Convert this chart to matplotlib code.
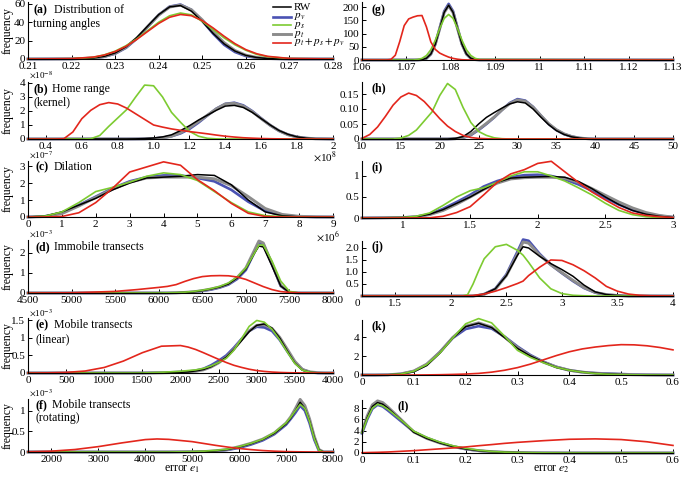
import matplotlib
matplotlib.use('Agg')
import matplotlib.pyplot as plt
from matplotlib.lines import Line2D

plt.rcParams['font.family'] = ['Liberation Serif', 'DejaVu Serif']
plt.rcParams['mathtext.fontset'] = 'stix'

W, H = 685, 482

# (a) turning angles
a_x = [0.21, 0.22, 0.225, 0.2275, 0.23, 0.2325, 0.235, 0.2375, 0.24, 0.2425, 0.245,
       0.2475, 0.25, 0.2525, 0.255, 0.2575, 0.26, 0.2625, 0.265, 0.27, 0.28]
a_rw = [0, 0.1, 1.1, 2.9, 6.6, 13.3, 23.5, 36, 48.3, 56.7, 58.1, 52, 40.7, 27.8, 16.5, 8.6, 3.9, 1.6, 0.5, 0, 0]
a_pv = [0, 0.1, 0.9, 2.5, 5.8, 12.2, 22.3, 35.2, 48.0, 57.0, 59.2, 53.5, 41.5, 27.5, 15.5, 7.6, 3.2, 1.2, 0.4, 0, 0]
a_ps = [0, 0.3, 1.8, 4.5, 8.5, 14.5, 22, 31, 40, 47, 50, 48, 41, 32, 23, 15.5, 9.5, 5, 2.5, 0.4, 0]
a_pt = [0, 0.1, 1.0, 2.7, 6.2, 12.8, 22.8, 35.5, 47.8, 56.5, 58.6, 53.5, 42.5, 29.5, 17.8, 9.2, 4.2, 1.7, 0.6, 0, 0]
a_all = [0, 0.4, 2.1, 4.3, 8.1, 13.8, 21.4, 30.1, 38.7, 45.4, 48.4, 47.1, 41.7, 33.7, 24.8, 16.7, 10.2, 5.7, 2.9, 0.6, 0]

# (g)
g_x = [1.06, 1.0645, 1.0655, 1.0665, 1.0675, 1.0685, 1.0695, 1.0705, 1.0715, 1.0725, 1.0735,
       1.0745, 1.0755, 1.0765, 1.0775, 1.0785, 1.0795, 1.0805, 1.0815, 1.0825, 1.0835,
       1.0845, 1.0855, 1.0865, 1.13]
g_rw = [0, 0, 0, 0, 0, 0, 0, 0, 0, 0.2, 1.4, 6.5, 22.6, 59.6, 119, 180, 207, 180, 119, 59.6, 22.6, 6.5, 1.4, 0.2, 0]
g_pv = [0, 0, 0, 0, 0, 0, 0, 0, 0, 0.2, 1.3, 6, 22, 60, 121, 184, 212, 184, 121, 60, 22, 6, 1.3, 0.2, 0]
g_ps = [0, 0, 0, 0, 0, 0, 0, 0, 0, 1.8, 6.1, 16.9, 38.9, 74.5, 119, 157, 172, 157, 119, 74.5, 38.9, 16.9, 6.1, 1.8, 0]
g_pt = [0, 0, 0, 0, 0, 0, 0, 0, 0, 0.3, 1.5, 7, 23, 60, 119, 179, 205, 179, 119, 60, 23, 7, 1.5, 0.3, 0]
g_all = [0, 0, 0, 2, 18, 70, 130, 155, 162, 167, 168, 125, 68, 40, 26, 18, 11, 6, 3, 1, 0.3, 0, 0, 0, 0]

# (b) home range, x in 1e8
b_x = [0.3, 0.45, 0.5, 0.55, 0.6, 0.65, 0.7, 0.75, 0.8, 0.85, 0.9, 0.95, 1.0, 1.05, 1.1, 1.15, 1.2,
       1.25, 1.3, 1.35, 1.4, 1.45, 1.5, 1.55, 1.6, 1.65, 1.7, 1.75, 1.8, 1.85, 1.9, 1.95, 2.0]
b_rw = [0, 0, 0, 0, 0, 0, 0, 0, 0, 0, 0.01, 0.03, 0.07, 0.15, 0.3, 0.6, 0.95, 1.35, 1.7, 2.05, 2.35,
        2.4, 2.25, 1.9, 1.45, 1.0, 0.6, 0.33, 0.15, 0.06, 0.02, 0, 0]
b_pv = [0, 0, 0, 0, 0, 0, 0, 0, 0, 0, 0.003, 0.01, 0.035, 0.09, 0.2, 0.4, 0.72, 1.17, 1.68, 2.17, 2.51,
        2.59, 2.4, 1.99, 1.47, 0.98, 0.58, 0.31, 0.15, 0.06, 0.02, 0.01, 0]
b_ps = [0, 0, 0, 0, 0, 0.02, 0.25, 0.9, 1.5, 2.1, 3.0, 3.85, 3.8, 3.0, 1.9, 1.2, 0.55, 0.2, 0.05, 0.01,
        0, 0, 0, 0, 0, 0, 0, 0, 0, 0, 0, 0, 0]
b_pt = [0, 0, 0, 0, 0, 0, 0, 0, 0, 0, 0.005, 0.01, 0.03, 0.08, 0.2, 0.45, 0.8, 1.25, 1.7, 2.15, 2.5,
        2.55, 2.35, 1.95, 1.45, 0.98, 0.58, 0.3, 0.14, 0.06, 0.02, 0.01, 0]
b_all = [0, 0, 0.02, 0.5, 1.45, 2.05, 2.45, 2.6, 2.5, 2.2, 1.8, 1.4, 1.0, 0.85, 0.72, 0.62, 0.53, 0.45,
         0.37, 0.28, 0.2, 0.14, 0.09, 0.06, 0.035, 0.02, 0.01, 0, 0, 0, 0, 0, 0]

# (h)
h_x = [10, 11, 12, 13, 14, 15, 16, 17, 18, 19, 20, 21, 22, 23, 24, 25, 26, 27, 28, 29, 30,
       31, 32, 33, 34, 35, 36, 37, 38, 39, 40, 45, 50]
h_rw = [0, 0, 0, 0, 0, 0, 0, 0, 0, 0, 0, 0, 0.002, 0.008, 0.025, 0.05, 0.072, 0.088, 0.103, 0.117,
        0.124, 0.12, 0.1, 0.073, 0.048, 0.028, 0.015, 0.007, 0.003, 0.001, 0, 0, 0]
h_pv = [0, 0, 0, 0, 0, 0, 0, 0, 0, 0, 0, 0, 0.001, 0.004, 0.013, 0.03, 0.05, 0.072, 0.097, 0.12,
        0.133, 0.128, 0.107, 0.078, 0.05, 0.03, 0.016, 0.008, 0.003, 0.001, 0, 0, 0]
h_ps = [0, 0, 0, 0, 0, 0.003, 0.012, 0.03, 0.06, 0.09, 0.145, 0.185, 0.165, 0.105, 0.055, 0.025,
        0.012, 0.004, 0.001, 0, 0, 0, 0, 0, 0, 0, 0, 0, 0, 0, 0, 0, 0]
h_pt = [0, 0, 0, 0, 0, 0, 0, 0, 0, 0, 0, 0, 0.001, 0.005, 0.015, 0.032, 0.052, 0.073, 0.097, 0.118,
        0.13, 0.126, 0.106, 0.078, 0.051, 0.031, 0.017, 0.008, 0.003, 0.001, 0, 0, 0]
h_all = [0.002, 0.015, 0.04, 0.075, 0.113, 0.14, 0.153, 0.145, 0.125, 0.097, 0.068, 0.043, 0.025,
         0.012, 0.005, 0.002, 0.001, 0, 0, 0, 0, 0, 0, 0, 0, 0, 0, 0, 0, 0, 0, 0, 0]

# (c) dilation, x in 1e6
c_x = [0, 0.5, 1, 1.5, 2, 2.5, 3, 3.5, 4, 4.5, 5, 5.5, 6, 6.5, 7, 7.5, 8, 8.5, 9]
c_rw = [0, 0.05, 0.3, 0.7, 1.1, 1.6, 2.0, 2.3, 2.35, 2.4, 2.5, 2.45, 1.9, 1.0, 0.3, 0.07, 0.01, 0, 0]
c_pv = [0, 0.04, 0.25, 0.7, 1.2, 1.7, 2.1, 2.35, 2.45, 2.45, 2.3, 2.1, 1.6, 0.9, 0.35, 0.1, 0.02, 0, 0]
c_ps = [0, 0.05, 0.3, 0.85, 1.5, 1.75, 2.05, 2.4, 2.6, 2.5, 2.15, 1.5, 0.85, 0.3, 0.08, 0.02, 0, 0, 0]
c_pt = [0, 0.03, 0.2, 0.65, 1.15, 1.65, 2.05, 2.3, 2.35, 2.35, 2.35, 2.25, 1.85, 1.2, 0.5, 0.15, 0.04, 0.01, 0]
c_all = [0, 0, 0.03, 0.25, 0.85, 1.7, 2.65, 2.95, 3.25, 3.05, 2.2, 1.55, 0.8, 0.22, 0.03, 0, 0, 0, 0]

# (i)
i_x = [0.7, 1.0, 1.1, 1.2, 1.3, 1.4, 1.5, 1.6, 1.7, 1.8, 1.9, 2.0, 2.1, 2.2, 2.3, 2.4, 2.5,
       2.6, 2.7, 2.8, 2.9, 3.0]
i_rw = [0, 0.01, 0.03, 0.09, 0.2, 0.35, 0.5, 0.68, 0.85, 0.95, 0.97, 0.98, 0.99, 0.97, 0.87, 0.7,
        0.5, 0.32, 0.18, 0.09, 0.04, 0.01]
i_pv = [0, 0.01, 0.03, 0.09, 0.22, 0.38, 0.55, 0.75, 0.88, 0.97, 1.02, 1.03, 1.0, 0.92, 0.8, 0.65,
        0.48, 0.32, 0.19, 0.1, 0.05, 0.02]
i_ps = [0, 0.01, 0.04, 0.12, 0.3, 0.5, 0.65, 0.72, 0.85, 1.0, 1.1, 1.1, 1.0, 0.88, 0.72, 0.55,
        0.35, 0.18, 0.08, 0.03, 0.01, 0]
i_pt = [0, 0.01, 0.03, 0.08, 0.18, 0.33, 0.5, 0.68, 0.83, 0.93, 0.96, 0.97, 0.97, 0.95, 0.85, 0.7,
        0.54, 0.38, 0.24, 0.13, 0.06, 0.02]
i_all = [0, 0, 0, 0.005, 0.04, 0.13, 0.27, 0.55, 0.85, 1.05, 1.15, 1.3, 1.35, 1.1, 0.85, 0.62,
         0.43, 0.25, 0.12, 0.06, 0.03, 0.01]

# (d) immobile transects
d_x = [4500, 5000, 5500, 5750, 6000, 6100, 6200, 6300, 6400, 6500, 6600, 6700, 6800, 6900,
       7000, 7100, 7150, 7200, 7300, 7400, 7500, 7600, 7800, 8000]
d_rw = [0, 0, 0, 0, 0, 0, 0.01, 0.03, 0.06, 0.12, 0.2, 0.3, 0.45, 0.75, 1.2, 2.0, 2.35, 2.3, 1.35,
        0.35, 0.03, 0, 0, 0]
d_pv = [0, 0, 0, 0, 0, 0, 0.01, 0.02, 0.05, 0.1, 0.17, 0.27, 0.42, 0.7, 1.15, 2.05, 2.5, 2.45,
        1.45, 0.35, 0.03, 0, 0, 0]
d_ps = [0, 0, 0, 0, 0, 0.01, 0.02, 0.04, 0.08, 0.14, 0.22, 0.33, 0.5, 0.8, 1.25, 2.0, 2.4, 2.4,
        1.6, 0.6, 0.08, 0.01, 0, 0]
d_pt = [0, 0, 0, 0, 0, 0, 0.01, 0.03, 0.06, 0.12, 0.2, 0.3, 0.46, 0.77, 1.25, 2.15, 2.6, 2.5,
        1.45, 0.38, 0.03, 0, 0, 0]
d_all = [0, 0.01, 0.08, 0.17, 0.28, 0.33, 0.42, 0.58, 0.72, 0.82, 0.86, 0.87, 0.86, 0.8, 0.68,
         0.5, 0.41, 0.32, 0.17, 0.07, 0.03, 0.01, 0, 0]

# (j)
j_x = [1.2, 2.0, 2.1, 2.15, 2.2, 2.25, 2.3, 2.4, 2.5, 2.6, 2.65, 2.7, 2.8, 2.9, 3.0, 3.1, 3.2,
       3.3, 3.4, 3.5, 3.6, 3.7, 3.8, 4.0]
j_rw = [0, 0, 0, 0, 0, 0.03, 0.08, 0.3, 0.85, 1.7, 2.05, 2.0, 1.65, 1.35, 1.1, 0.82, 0.45, 0.17,
        0.06, 0.02, 0, 0, 0, 0]
j_pv = [0, 0, 0, 0, 0, 0.03, 0.08, 0.3, 0.9, 1.85, 2.35, 2.3, 1.75, 1.3, 0.95, 0.62, 0.33, 0.14,
        0.05, 0.02, 0, 0, 0, 0]
j_ps = [0, 0, 0, 0.05, 0.5, 1.05, 1.55, 2.05, 2.15, 1.9, 1.7, 1.4, 0.75, 0.3, 0.1, 0.03, 0.01, 0,
        0, 0, 0, 0, 0, 0]
j_pt = [0, 0, 0, 0, 0, 0.03, 0.07, 0.28, 0.85, 1.75, 2.25, 2.2, 1.7, 1.3, 0.97, 0.65, 0.35, 0.15,
        0.06, 0.02, 0, 0, 0, 0]
j_all = [0, 0, 0, 0.01, 0.02, 0.05, 0.08, 0.2, 0.35, 0.52, 0.62, 0.85, 1.2, 1.5, 1.48, 1.3, 1.05,
         0.75, 0.4, 0.2, 0.08, 0.03, 0.01, 0]

# (e) mobile transects (linear)
e_x = [0, 250, 500, 750, 1000, 1250, 1500, 1750, 2000, 2100, 2200, 2300, 2400, 2500, 2600, 2700,
       2800, 2900, 3000, 3100, 3200, 3300, 3400, 3500, 3600, 3700, 3800, 3900, 4000]
e_rw = [0, 0, 0, 0, 0, 0, 0, 0.005, 0.02, 0.03, 0.06, 0.1, 0.18, 0.3, 0.45, 0.67, 0.92, 1.18, 1.36,
        1.4, 1.28, 1.0, 0.63, 0.28, 0.08, 0.02, 0.005, 0, 0]
e_pv = [0, 0, 0, 0, 0, 0, 0, 0.01, 0.03, 0.04, 0.07, 0.12, 0.22, 0.35, 0.5, 0.72, 0.97, 1.2, 1.32,
        1.3, 1.2, 0.95, 0.62, 0.3, 0.1, 0.02, 0, 0, 0]
e_ps = [0, 0, 0, 0, 0, 0, 0, 0.02, 0.05, 0.07, 0.09, 0.13, 0.2, 0.3, 0.42, 0.65, 0.98, 1.33, 1.5,
        1.45, 1.25, 0.95, 0.6, 0.27, 0.08, 0.02, 0, 0, 0]
e_pt = [0, 0, 0, 0, 0, 0, 0, 0.005, 0.02, 0.03, 0.05, 0.09, 0.17, 0.29, 0.45, 0.68, 0.95, 1.2, 1.36,
        1.38, 1.27, 1.02, 0.68, 0.33, 0.1, 0.03, 0.01, 0, 0]
e_all = [0, 0.004, 0.016, 0.057, 0.158, 0.34, 0.58, 0.765, 0.784, 0.74, 0.67, 0.58, 0.485, 0.39,
         0.3, 0.22, 0.16, 0.108, 0.07, 0.045, 0.027, 0.016, 0.009, 0.005, 0.002, 0, 0, 0, 0]

# (k)
k_x = [0, 0.025, 0.05, 0.075, 0.1, 0.125, 0.15, 0.175, 0.2, 0.225, 0.25, 0.275, 0.3, 0.325, 0.35,
       0.375, 0.4, 0.425, 0.45, 0.475, 0.5, 0.525, 0.55, 0.575, 0.6]
k_rw = [0, 0, 0.02, 0.1, 0.35, 1.0, 2.3, 3.9, 5.1, 5.45, 5.0, 3.95, 2.8, 2.0, 1.35, 0.8, 0.5, 0.3,
        0.17, 0.1, 0.05, 0.02, 0.01, 0, 0]
k_pv = [0, 0, 0.02, 0.1, 0.4, 1.1, 2.4, 3.9, 4.85, 5.15, 4.9, 4.05, 3.0, 2.1, 1.4, 0.85, 0.5, 0.3,
        0.2, 0.15, 0.1, 0.05, 0.02, 0.01, 0]
k_ps = [0, 0, 0.02, 0.1, 0.4, 1.1, 2.3, 3.9, 5.4, 5.95, 5.5, 4.1, 2.6, 1.85, 1.3, 0.8, 0.5, 0.3,
        0.15, 0.08, 0.04, 0.02, 0.01, 0, 0]
k_pt = [0, 0, 0.02, 0.12, 0.42, 1.15, 2.4, 3.95, 5.15, 5.5, 5.05, 4.0, 2.9, 2.0, 1.35, 0.85, 0.5,
        0.3, 0.18, 0.1, 0.06, 0.03, 0.01, 0, 0]
k_all = [0, 0, 0, 0, 0, 0.01, 0.03, 0.06, 0.1, 0.17, 0.3, 0.5, 0.78, 1.15, 1.6, 2.05, 2.45, 2.75,
         2.95, 3.1, 3.2, 3.18, 3.08, 2.9, 2.65]

# (f) mobile transects (rotating)
f_x = [1500, 2000, 2500, 3000, 3500, 4000, 4250, 4500, 5000, 5250, 5500, 5750, 6000, 6250, 6500,
       6750, 7000, 7100, 7200, 7300, 7400, 7500, 7600, 7700, 7800, 8000]
f_rw = [0, 0, 0, 0, 0, 0, 0, 0, 0.005, 0.01, 0.03, 0.06, 0.12, 0.2, 0.3, 0.45, 0.68, 0.82, 1.0, 1.2,
        1.05, 0.75, 0.35, 0.05, 0, 0]
f_pv = [0, 0, 0, 0, 0, 0, 0, 0, 0.005, 0.01, 0.02, 0.05, 0.1, 0.18, 0.28, 0.43, 0.66, 0.8, 0.95,
        1.12, 1.0, 0.7, 0.3, 0.03, 0, 0]
f_ps = [0, 0, 0, 0, 0, 0, 0, 0, 0.01, 0.02, 0.04, 0.07, 0.13, 0.21, 0.31, 0.47, 0.7, 0.84, 1.0,
        1.15, 1.05, 0.74, 0.33, 0.04, 0, 0]
f_pt = [0, 0, 0, 0, 0, 0, 0, 0, 0.005, 0.01, 0.03, 0.06, 0.13, 0.21, 0.31, 0.46, 0.7, 0.85, 1.05,
        1.27, 1.12, 0.8, 0.38, 0.06, 0, 0]
f_all = [0.005, 0.02, 0.06, 0.13, 0.22, 0.3, 0.315, 0.305, 0.25, 0.205, 0.16, 0.12, 0.085, 0.058,
         0.035, 0.02, 0.01, 0.008, 0.006, 0.004, 0.003, 0.002, 0.001, 0, 0, 0]

# (l)
l_x = [0, 0.01, 0.02, 0.03, 0.04, 0.05, 0.075, 0.1, 0.125, 0.15, 0.175, 0.2, 0.225, 0.25, 0.275,
       0.3, 0.35, 0.4, 0.45, 0.5, 0.55, 0.6]
l_rw = [3.6, 6.3, 8.3, 9.0, 8.7, 8.0, 5.9, 3.7, 2.6, 1.8, 1.15, 0.72, 0.42, 0.24, 0.13, 0.07, 0.02,
        0.01, 0, 0, 0, 0]
l_pv = [3.5, 6.0, 7.9, 8.6, 8.3, 7.6, 5.7, 3.8, 2.7, 1.85, 1.2, 0.7, 0.4, 0.22, 0.12, 0.06, 0.02,
        0, 0, 0, 0, 0]
l_ps = [3.6, 6.1, 8.0, 8.7, 8.4, 7.8, 5.9, 3.9, 2.8, 1.95, 1.3, 0.85, 0.5, 0.28, 0.15, 0.08, 0.03,
        0.01, 0, 0, 0, 0]
l_pt = [3.7, 6.6, 8.6, 9.3, 9.0, 8.2, 6.0, 3.75, 2.6, 1.8, 1.15, 0.72, 0.43, 0.24, 0.13, 0.07, 0.02,
        0.01, 0, 0, 0, 0]
l_all = [0.05, 0.08, 0.1, 0.12, 0.15, 0.18, 0.3, 0.42, 0.58, 0.74, 0.9, 1.08, 1.3, 1.5, 1.72, 1.9,
         2.2, 2.45, 2.52, 2.4, 2.0, 1.35]

legend_labels = ['RW', '$p_v$', '$p_s$', '$p_t$', '$p_t + p_s + p_v$']

COLORS = {'rw': '#000000', 'pv': '#4a52b3', 'ps': '#7dcb31', 'pt': '#8c8c8c', 'all': '#e3261c'}
WIDTHS = {'rw': 1.1, 'pv': 1.9, 'ps': 1.2, 'pt': 2.1, 'all': 1.2}
DRAW_ORDER = ['pv', 'pt', 'rw', 'ps', 'all']
TXT = 8.5

fig = plt.figure(figsize=(W / 100, H / 100), dpi=100)


def ftext(px, py, s, **kw):
    kw.setdefault('fontsize', TXT)
    kw.setdefault('va', 'center')
    fig.text(px / W, 1 - py / H, s, **kw)


def panel(x0, x1, top, zero, x, curves, xlim, ymax, xticks, xlabels, yticks, ylabels):
    ax = fig.add_axes([x0 / W, 1 - zero / H, (x1 - x0) / W, (zero - top) / H])
    ax.patch.set_alpha(0)
    for key in DRAW_ORDER:
        ax.plot(x, curves[key], color=COLORS[key], lw=WIDTHS[key], clip_on=False,
                solid_joinstyle='round')
    ax.set_xlim(*xlim)
    ax.set_ylim(0, ymax)
    ax.set_xticks(xticks)
    ax.set_xticklabels(xlabels)
    ax.set_yticks(yticks)
    ax.set_yticklabels(ylabels)
    ax.spines['top'].set_visible(False)
    ax.spines['right'].set_visible(False)
    ax.spines['left'].set_linewidth(0.8)
    ax.spines['bottom'].set_linewidth(0.8)
    ax.tick_params(direction='in', length=3, width=0.7, labelsize=8, pad=2)
    return ax


def series(rw, pv, ps, pt, al):
    return {'rw': rw, 'pv': pv, 'ps': ps, 'pt': pt, 'all': al}


LX0, LX1 = 28, 333
RX0, RX1 = 362, 673

# left column
panel(LX0, LX1, 2, 59, a_x, series(a_rw, a_pv, a_ps, a_pt, a_all), (0.21, 0.28), 62,
      [0.21, 0.22, 0.23, 0.24, 0.25, 0.26, 0.27, 0.28],
      ['0.21', '0.22', '0.23', '0.24', '0.25', '0.26', '0.27', '0.28'],
      [0, 20, 40, 60], ['0', '20', '40', '60'])
panel(LX0, LX1, 82, 139, b_x, series(b_rw, b_pv, b_ps, b_pt, b_all), (0.3, 2.0), 4.07,
      [0.4, 0.6, 0.8, 1.0, 1.2, 1.4, 1.6, 1.8, 2.0],
      ['0.4', '0.6', '0.8', '1.0', '1.2', '1.4', '1.6', '1.8', '2'],
      [0, 1, 2, 3, 4], ['0', '1', '2', '3', '4'])
panel(LX0, LX1, 161, 217, c_x, series(c_rw, c_pv, c_ps, c_pt, c_all), (0, 9), 3.3,
      list(range(10)), [str(v) for v in range(10)],
      [0, 1, 2, 3], ['0', '1', '2', '3'])
panel(LX0, LX1, 240, 293, d_x, series(d_rw, d_pv, d_ps, d_pt, d_all), (4500, 8000), 2.65,
      list(range(4500, 8001, 500)), [str(v) for v in range(4500, 8001, 500)],
      [0, 1, 2], ['0', '1', '2'])
panel(LX0, LX1, 318, 373, e_x, series(e_rw, e_pv, e_ps, e_pt, e_all), (0, 4000), 1.57,
      list(range(0, 4001, 500)), [str(v) for v in range(0, 4001, 500)],
      [0, 0.5, 1, 1.5], ['0', '0.5', '1', '1.5'])
panel(LX0, LX1, 399, 452, f_x, series(f_rw, f_pv, f_ps, f_pt, f_all), (1500, 8000), 1.28,
      list(range(2000, 8001, 1000)), [str(v) for v in range(2000, 8001, 1000)],
      [0, 0.5, 1], ['0', '0.5', '1'])

# right column
panel(RX0, RX1, 2, 60, g_x, series(g_rw, g_pv, g_ps, g_pt, g_all), (1.06, 1.13), 219,
      [1.06, 1.07, 1.08, 1.09, 1.10, 1.11, 1.12, 1.13],
      ['1.06', '1.07', '1.08', '1.09', '11', '1.11', '1.12', '1.13'],
      [0, 50, 100, 150, 200], ['0', '50', '100', '150', '200'])
panel(RX0, RX1, 82, 139, h_x, series(h_rw, h_pv, h_ps, h_pt, h_all), (10, 50), 0.19,
      list(range(10, 51, 5)), [str(v) for v in range(10, 51, 5)],
      [0, 0.05, 0.10, 0.15], ['0', '0.05', '0.10', '0.15'])
panel(RX0, RX1, 161, 218, i_x, series(i_rw, i_pv, i_ps, i_pt, i_all), (0.7, 3.0), 1.357,
      [1, 1.5, 2, 2.5, 3], ['1', '1.5', '2', '2.5', '3'],
      [0, 0.5, 1], ['0', '0.5', '1'])
panel(RX0, RX1, 241, 296, j_x, series(j_rw, j_pv, j_ps, j_pt, j_all), (1.2, 4.0), 2.29,
      [1.5, 2, 2.5, 3, 3.5, 4], ['1.5', '2', '2.5', '3', '3.5', '4'],
      [0.5, 1.0, 1.5, 2.0], ['0.5', '1.0', '1.5', '2.0'])
panel(RX0, RX1, 320, 375, k_x, series(k_rw, k_pv, k_ps, k_pt, k_all), (0, 0.6), 5.8,
      [0, 0.1, 0.2, 0.3, 0.4, 0.5, 0.6], ['0', '0.1', '0.2', '0.3', '0.4', '0.5', '0.6'],
      [0, 2, 4], ['0', '2', '4'])
panel(RX0, RX1, 400, 453, l_x, series(l_rw, l_pv, l_ps, l_pt, l_all), (0, 0.6), 9.46,
      [0, 0.1, 0.2, 0.3, 0.4, 0.5, 0.6], ['0', '0.1', '0.2', '0.3', '0.4', '0.5', '0.6'],
      [0, 2, 4, 6, 8], ['0', '2', '4', '6', '8'])

# corner origin label of (j)
ftext(357, 303, '0', fontsize=8, ha='center')

# panel titles
for px, py, lab, rest, px2, line2, py2 in [
        (33, 10, '(a)', 'Distribution of', 54, 'turning angles', 24),
        (33, 89, '(b)', 'Home range', 52, '(kernel)', 102),
        (35, 167, '(c)', 'Dilation', 54, None, None),
        (35, 247, '(d)', 'Immobile transects', 54, None, None),
        (35, 325, '(e)', 'Mobile transects', 54, '(linear)', 339),
        (35, 405, '(f)', 'Mobile transects', 52, '(rotating)', 418)]:
    ftext(px, py, lab, fontweight='bold')
    ftext(px2, py, rest)
    if line2:
        ftext(px, py2, line2)

for px, py, lab in [(372, 10, '(g)'), (372, 88, '(h)'), (372, 167, '(i)'),
                    (372, 247, '(j)'), (372, 326, '(k)'), (398, 406, '(l)')]:
    ftext(px, py, lab, fontweight='bold')

# y labels
for top, zero in [(2, 59), (82, 139), (161, 217), (240, 293), (318, 373), (399, 452)]:
    ftext(8, (top + zero) / 2, 'frequency', rotation=90, ha='center')

# scale factors
for px, py, s in [(29, 75, r'$\times$10$^{-8}$'), (29, 155, r'$\times$10$^{-7}$'),
                  (29, 234, r'$\times$10$^{-3}$'), (29, 313, r'$\times$10$^{-3}$'),
                  (29, 393, r'$\times$10$^{-3}$')]:
    ftext(px, py, s, fontsize=6.5)
for px, py, s in [(313, 157, r'$\times$10$^{8}$'), (316, 237, r'$\times$10$^{6}$')]:
    ftext(px, py, s, fontsize=8)

# x axis labels
ftext(182, 469, 'error $e_1$', ha='center')
ftext(551, 469, 'error $e_2$', ha='center')

# legend
for (key, lab), py in zip(zip(['rw', 'pv', 'ps', 'pt', 'all'], legend_labels), [7, 16.5, 25, 33.5, 42.5]):
    fig.add_artist(Line2D([273 / W, 291 / W], [1 - py / H, 1 - py / H], color=COLORS[key],
                          lw=WIDTHS[key]))
    ftext(294, py, lab, fontsize=8)

fig.savefig('out.png', dpi=100)
